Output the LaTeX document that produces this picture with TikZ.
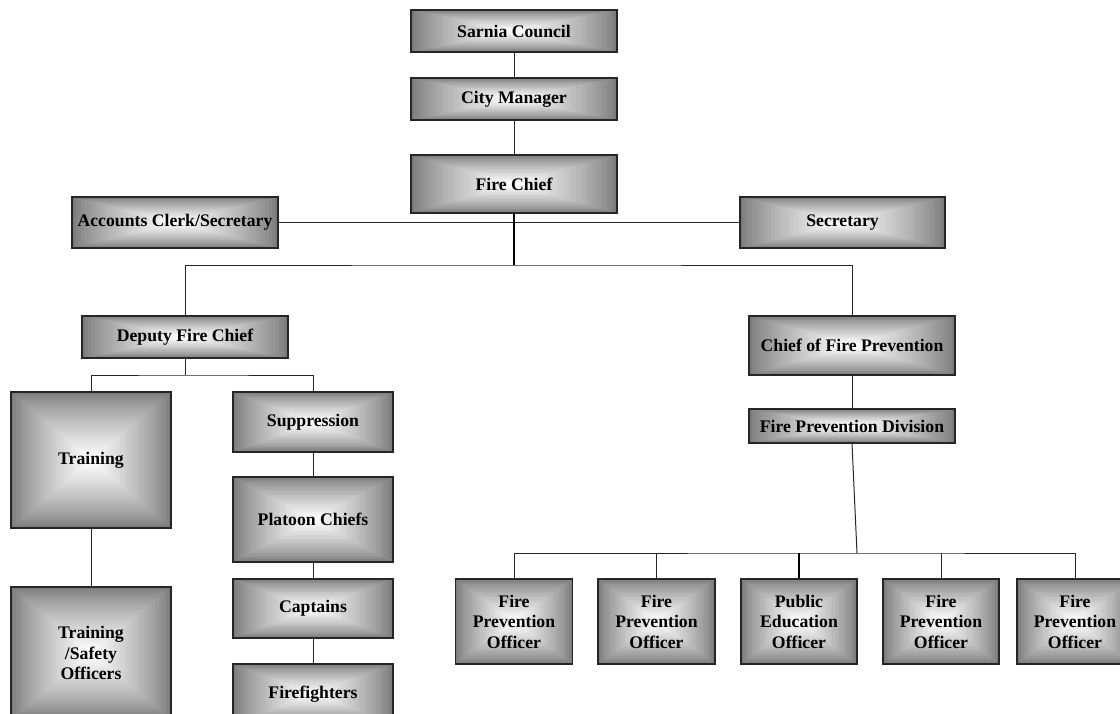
\documentclass[tikz,border=0pt]{standalone}
\usepackage{fontspec}
\setmainfont{Liberation Serif}
\usetikzlibrary{calc}
\tikzset{
  orgbox/.style={draw=black!85, line width=1.1pt, inner sep=0pt, align=center,
    font=\fontsize{17.7}{20.5}\selectfont\bfseries,
    minimum width=#1,
    path picture={
      \foreach \k in {0,...,32}{
        \pgfmathsetmacro\shadef{1-\k/33}
        \pgfmathsetmacro\shadec{48+52*(\k/32)^0.8}
        \fill[white!\shadec!black]
          ($(path picture bounding box.center)!\shadef!(path picture bounding box.south west)$)
          rectangle
          ($(path picture bounding box.center)!\shadef!(path picture bounding box.north east)$);
      }
    }},
  orgbox/.default=206pt,
  conn/.style={draw=black!85, line width=1pt},
  thickconn/.style={draw=black, line width=2pt}
}
\begin{document}
\begin{tikzpicture}[x=1pt,y=-1pt]
\useasboundingbox (0,0) rectangle (1120,713);
\clip (0,0) rectangle (1120,713);
% top chain
\node[orgbox, minimum height=42pt] (sarnia) at (514,31) {Sarnia Council};
\node[orgbox, minimum height=42pt] (city) at (514,99) {City Manager};
\node[orgbox, minimum height=58pt] (chief) at (514,184) {Fire Chief};
\node[orgbox, minimum height=51pt] (acct) at (175,222.5) {Accounts Clerk/Secretary};
\node[orgbox=205pt, minimum height=51pt] (sec) at (842.5,222.5) {Secretary};
% second level
\node[orgbox, minimum height=42pt] (deputy) at (185,337) {Deputy Fire Chief};
\node[orgbox, minimum height=59pt] (cfp) at (852,345.5) {Chief of Fire Prevention};
\node[orgbox, minimum height=34pt] (fpd) at (852,426) {Fire Prevention Division};
% deputy branch
\node[orgbox=160pt, minimum height=136pt] (training) at (91,460) {Training};
\node[orgbox=160pt, minimum height=132pt] (tso) at (91,653) {Training\\/Safety\\Officers};
\node[orgbox=160pt, minimum height=60pt] (supp) at (313,422) {Suppression};
\node[orgbox=160pt, minimum height=85pt] (platoon) at (313,519.5) {Platoon Chiefs};
\node[orgbox=160pt, minimum height=59pt] (captains) at (313,608.5) {Captains};
\node[orgbox=160pt, minimum height=60pt] (firefighters) at (313,694) {Firefighters};
% prevention officers
\node[orgbox=117pt, minimum height=85pt] (fpo1) at (514,621.5) {Fire\\Prevention\\Officer};
\node[orgbox=117pt, minimum height=85pt] (fpo2) at (656.5,621.5) {Fire\\Prevention\\Officer};
\node[orgbox=116pt, minimum height=85pt] (peo) at (799,621.5) {Public\\Education\\Officer};
\node[orgbox=116pt, minimum height=85pt] (fpo4) at (941,621.5) {Fire\\Prevention\\Officer};
\node[orgbox=116pt, minimum height=85pt] (fpo5) at (1075,621.5) {Fire\\Prevention\\Officer};
% junction coordinates
\coordinate (j1) at (514,265);
\coordinate (j2) at (185,375);
\coordinate (j3) at (857,553);
% connectors
\draw[conn] (sarnia.south) -- (city.north);
\draw[conn] (city.south) -- (chief.north);
\draw[conn] (acct.east) -- (sec.west);
\draw[thickconn] (chief.south) -- (j1);
\draw[conn] (deputy.north) |- (j1) -| (cfp.north);
\draw[conn] (deputy.south) -- (j2);
\draw[conn] (training.north) |- (j2) -| (supp.north);
\draw[conn] (training.south) -- (tso.north);
\draw[conn] (supp.south) -- (platoon.north);
\draw[conn] (platoon.south) -- (captains.north);
\draw[conn] (captains.south) -- (firefighters.north);
\draw[conn] (cfp.south) -- (fpd.north);
\draw[conn] (fpd.south) -- (j3);
\draw[conn] (fpo1.north) |- (j3) -| (fpo5.north);
\draw[conn] (fpo2.north) -- (fpo2.north |- j3);
\draw[thickconn] (peo.north) -- (peo.north |- j3);
\draw[conn] (fpo4.north) -- (fpo4.north |- j3);
\end{tikzpicture}
\end{document}
